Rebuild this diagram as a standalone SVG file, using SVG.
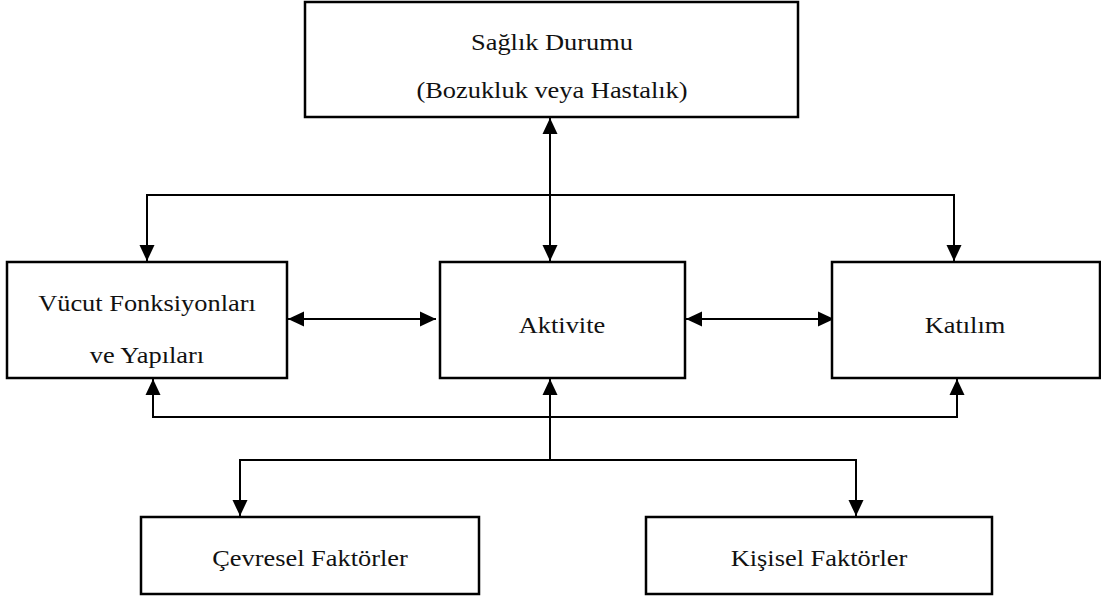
<svg xmlns="http://www.w3.org/2000/svg" width="1101" height="599" viewBox="0 0 1101 599">
  <style>
    .box { fill: #ffffff; stroke: #000000; stroke-width: 2.5; }
    .lbl { font-size: 24px; fill: #111111; text-anchor: middle; }
    .con { fill: none; stroke: #000000; stroke-width: 2; }
  </style>
  <defs>
    <marker id="ah" markerUnits="userSpaceOnUse" markerWidth="18" markerHeight="18" refX="16" refY="8" orient="auto-start-reverse" overflow="visible">
      <path d="M0,0.5 L16,8 L0,15.5 z" fill="#000000"/>
    </marker>
  </defs>

  <g id="connectors">
    <line class="con" x1="550" y1="118" x2="550" y2="261" marker-start="url(#ah)" marker-end="url(#ah)"/>
    <path class="con" d="M147,261 L147,195 L954,195 L954,261" marker-start="url(#ah)" marker-end="url(#ah)"/>
    <line class="con" x1="288" y1="319" x2="436" y2="319" marker-start="url(#ah)" marker-end="url(#ah)"/>
    <line class="con" x1="686" y1="319" x2="834" y2="319" marker-start="url(#ah)" marker-end="url(#ah)"/>
    <path class="con" d="M153,379 L153,417 L957,417 L957,379" marker-start="url(#ah)" marker-end="url(#ah)"/>
    <line class="con" x1="550" y1="460" x2="550" y2="379" marker-end="url(#ah)"/>
    <path class="con" d="M240,516 L240,460 L856,460 L856,516" marker-start="url(#ah)" marker-end="url(#ah)"/>
  </g>

  <g font-family="'Liberation Serif', 'DejaVu Serif', serif">
  <g id="saglik">
    <rect class="box" x="305" y="2" width="493" height="115"/>
    <text class="lbl" transform="matrix(1.1 0 0 1 552 50)">Sağlık Durumu</text>
    <text class="lbl" transform="matrix(1.1 0 0 1 552 98)">(Bozukluk veya Hastalık)</text>
  </g>

  <g id="vucut">
    <rect class="box" x="7" y="262" width="280" height="116"/>
    <text class="lbl" transform="matrix(1.1 0 0 1 147 311)">Vücut Fonksiyonları</text>
    <text class="lbl" transform="matrix(1.1 0 0 1 147 363)">ve Yapıları</text>
  </g>

  <g id="aktivite">
    <rect class="box" x="440" y="262" width="245" height="116"/>
    <text class="lbl" transform="matrix(1.1 0 0 1 562 333)">Aktivite</text>
  </g>

  <g id="katilim">
    <rect class="box" x="832" y="262" width="268" height="116"/>
    <text class="lbl" transform="matrix(1.1 0 0 1 965 333)">Katılım</text>
  </g>

  <g id="cevresel">
    <rect class="box" x="141" y="517" width="338" height="77"/>
    <text class="lbl" transform="matrix(1.1 0 0 1 310 566)">Çevresel Faktörler</text>
  </g>

  <g id="kisisel">
    <rect class="box" x="646" y="517" width="346" height="77"/>
    <text class="lbl" transform="matrix(1.1 0 0 1 819 566)">Kişisel Faktörler</text>
  </g>
  </g>
</svg>
